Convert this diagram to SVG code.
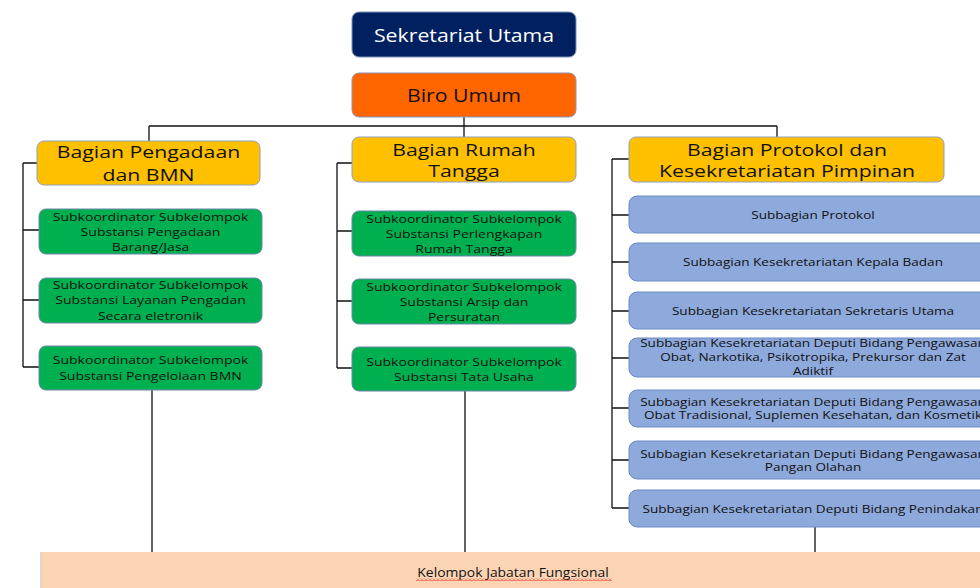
<svg xmlns="http://www.w3.org/2000/svg" width="980" height="588" viewBox="0 0 980 588">
<style>
text{font-family:"Open Sans","Noto Sans","DejaVu Sans",sans-serif;text-anchor:middle;fill:#111}
.hd{font-size:17px}
.top{font-size:18.5px}
.sm{font-size:11.5px}
.ln{stroke:#111;stroke-width:1.3;fill:none}
.gr{fill:#00B050;stroke:#6a86a8;stroke-width:1}
.bl{fill:#8EA9DB;stroke:#6b8cc4;stroke-width:1}
.ye{fill:#FFC000;stroke:#8fa0bd;stroke-width:1}
</style>
<defs>
<pattern id="wave" width="4" height="3" patternUnits="userSpaceOnUse">
<path d="M0 2.5 L2 0.5 L4 2.5" stroke="#e00000" stroke-width="0.8" fill="none"/>
</pattern>
</defs>
<rect width="980" height="588" fill="#fff"/>

<g id="connectors">
<path class="ln" d="M464 117 V126 M149 126 H777 M149 126 V141 M464 126 V137 M777 126 V137"/>
<path class="ln" d="M23 163 V367 M23 163 H37 M23 230 H39 M23 300 H39 M23 367 H39"/>
<path class="ln" d="M337 163 V368 M337 163 H352 M337 231 H352 M337 301 H352 M337 368 H352"/>
<path class="ln" d="M612 159 V508 M612 159 H629 M612 215 H629 M612 262 H629 M612 311 H629 M612 358 H629 M612 408 H629 M612 460 H629 M612 508 H629"/>
<path class="ln" d="M152 390 V552 M465 391 V552 M815 527 V552"/>
</g>

<g id="sekretariat-utama">
<rect x="352" y="12" width="224" height="45" rx="7" fill="#002060" stroke="#7f93bb"/>
<g transform="translate(464,0) scale(1.15,1)"><text class="top" x="0" y="42" style="fill:#fff">Sekretariat Utama</text></g>
</g>
<g id="biro-umum">
<rect x="352" y="73" width="224" height="44" rx="7" fill="#FF6600" stroke="#8a93b8"/>
<g transform="translate(464,0) scale(1.15,1)"><text class="top" x="0" y="102">Biro Umum</text></g>
</g>

<g id="bagian-pengadaan">
<rect class="ye" x="37" y="141" width="223" height="44" rx="7"/>
<g transform="translate(148.5,0) scale(1.25,1)"><text class="hd" x="0" y="158">Bagian Pengadaan</text><text class="hd" x="0" y="181">dan BMN</text></g>
</g>
<g id="bagian-rumah-tangga">
<rect class="ye" x="352" y="137" width="224" height="45" rx="7"/>
<g transform="translate(464,0) scale(1.25,1)"><text class="hd" x="0" y="156">Bagian Rumah</text><text class="hd" x="0" y="177">Tangga</text></g>
</g>
<g id="bagian-protokol">
<rect class="ye" x="629" y="137" width="315" height="45" rx="7"/>
<g transform="translate(787,0) scale(1.25,1)"><text class="hd" x="0" y="156">Bagian Protokol dan</text><text class="hd" x="0" y="177">Kesekretariatan Pimpinan</text></g>
</g>

<g id="sub-pengadaan-barang">
<rect class="gr" x="39" y="209" width="223" height="45" rx="7"/>
<g transform="translate(150.5,0) scale(1.22,1)"><text class="sm" x="0" y="221">Subkoordinator Subkelompok</text><text class="sm" x="0" y="236">Substansi Pengadaan</text><text class="sm" x="0" y="251">Barang/Jasa</text></g>
</g>
<g id="sub-layanan-pengadaan">
<rect class="gr" x="39" y="278" width="223" height="45" rx="7"/>
<g transform="translate(150.5,0) scale(1.22,1)"><text class="sm" x="0" y="289">Subkoordinator Subkelompok</text><text class="sm" x="0" y="304.5">Substansi Layanan Pengadan</text><text class="sm" x="0" y="320">Secara eletronik</text></g>
</g>
<g id="sub-pengelolaan-bmn">
<rect class="gr" x="39" y="346" width="223" height="44" rx="7"/>
<g transform="translate(150.5,0) scale(1.22,1)"><text class="sm" x="0" y="364">Subkoordinator Subkelompok</text><text class="sm" x="0" y="380">Substansi Pengelolaan BMN</text></g>
</g>

<g id="sub-perlengkapan">
<rect class="gr" x="352" y="211" width="224" height="45" rx="7"/>
<g transform="translate(464,0) scale(1.22,1)"><text class="sm" x="0" y="223">Subkoordinator Subkelompok</text><text class="sm" x="0" y="238">Substansi Perlengkapan</text><text class="sm" x="0" y="253">Rumah Tangga</text></g>
</g>
<g id="sub-arsip">
<rect class="gr" x="352" y="279" width="224" height="45" rx="7"/>
<g transform="translate(464,0) scale(1.22,1)"><text class="sm" x="0" y="291">Subkoordinator Subkelompok</text><text class="sm" x="0" y="306">Substansi Arsip dan</text><text class="sm" x="0" y="321">Persuratan</text></g>
</g>
<g id="sub-tata-usaha">
<rect class="gr" x="352" y="347" width="224" height="44" rx="7"/>
<g transform="translate(464,0) scale(1.22,1)"><text class="sm" x="0" y="366">Subkoordinator Subkelompok</text><text class="sm" x="0" y="381">Substansi Tata Usaha</text></g>
</g>

<g id="subbag-protokol">
<rect class="bl" x="629" y="196" width="368" height="37" rx="8"/>
<g transform="translate(813,0) scale(1.18,1)"><text class="sm" x="0" y="219">Subbagian Protokol</text></g>
</g>
<g id="subbag-kepala-badan">
<rect class="bl" x="629" y="243" width="368" height="38" rx="8"/>
<g transform="translate(813,0) scale(1.18,1)"><text class="sm" x="0" y="266">Subbagian Kesekretariatan Kepala Badan</text></g>
</g>
<g id="subbag-sekretaris-utama">
<rect class="bl" x="629" y="292" width="368" height="37" rx="8"/>
<g transform="translate(813,0) scale(1.18,1)"><text class="sm" x="0" y="315">Subbagian Kesekretariatan Sekretaris Utama</text></g>
</g>
<g id="subbag-deputi-napza">
<rect class="bl" x="629" y="338" width="368" height="39" rx="8"/>
<g transform="translate(813,0) scale(1.18,1)"><text class="sm" x="0" y="347">Subbagian Kesekretariatan Deputi Bidang Pengawasan</text><text class="sm" x="0" y="361">Obat, Narkotika, Psikotropika, Prekursor dan Zat</text><text class="sm" x="0" y="375">Adiktif</text></g>
</g>
<g id="subbag-deputi-obat-tradisional">
<rect class="bl" x="629" y="390" width="368" height="37" rx="8"/>
<g transform="translate(813,0) scale(1.18,1)"><text class="sm" x="0" y="406">Subbagian Kesekretariatan Deputi Bidang Pengawasan</text><text class="sm" x="0" y="419">Obat Tradisional, Suplemen Kesehatan, dan Kosmetik</text></g>
</g>
<g id="subbag-deputi-pangan">
<rect class="bl" x="629" y="441" width="368" height="38" rx="8"/>
<g transform="translate(813,0) scale(1.18,1)"><text class="sm" x="0" y="458">Subbagian Kesekretariatan Deputi Bidang Pengawasan</text><text class="sm" x="0" y="471">Pangan Olahan</text></g>
</g>
<g id="subbag-deputi-penindakan">
<rect class="bl" x="629" y="490" width="368" height="37" rx="8"/>
<g transform="translate(813,0) scale(1.18,1)"><text class="sm" x="0" y="513">Subbagian Kesekretariatan Deputi Bidang Penindakan</text></g>
</g>

<g id="kelompok-jabatan-fungsional">
<rect x="40" y="552" width="950" height="40" fill="#e4d6cc"/>
<rect x="42" y="552" width="948" height="40" fill="#FBD4B4"/>
<g transform="translate(513,0) scale(1.07,1)"><text x="0" y="577" style="font-size:13px">Kelompok Jabatan Fungsional</text></g>
<rect x="416" y="578" width="196" height="3" fill="url(#wave)"/>
</g>
</svg>
